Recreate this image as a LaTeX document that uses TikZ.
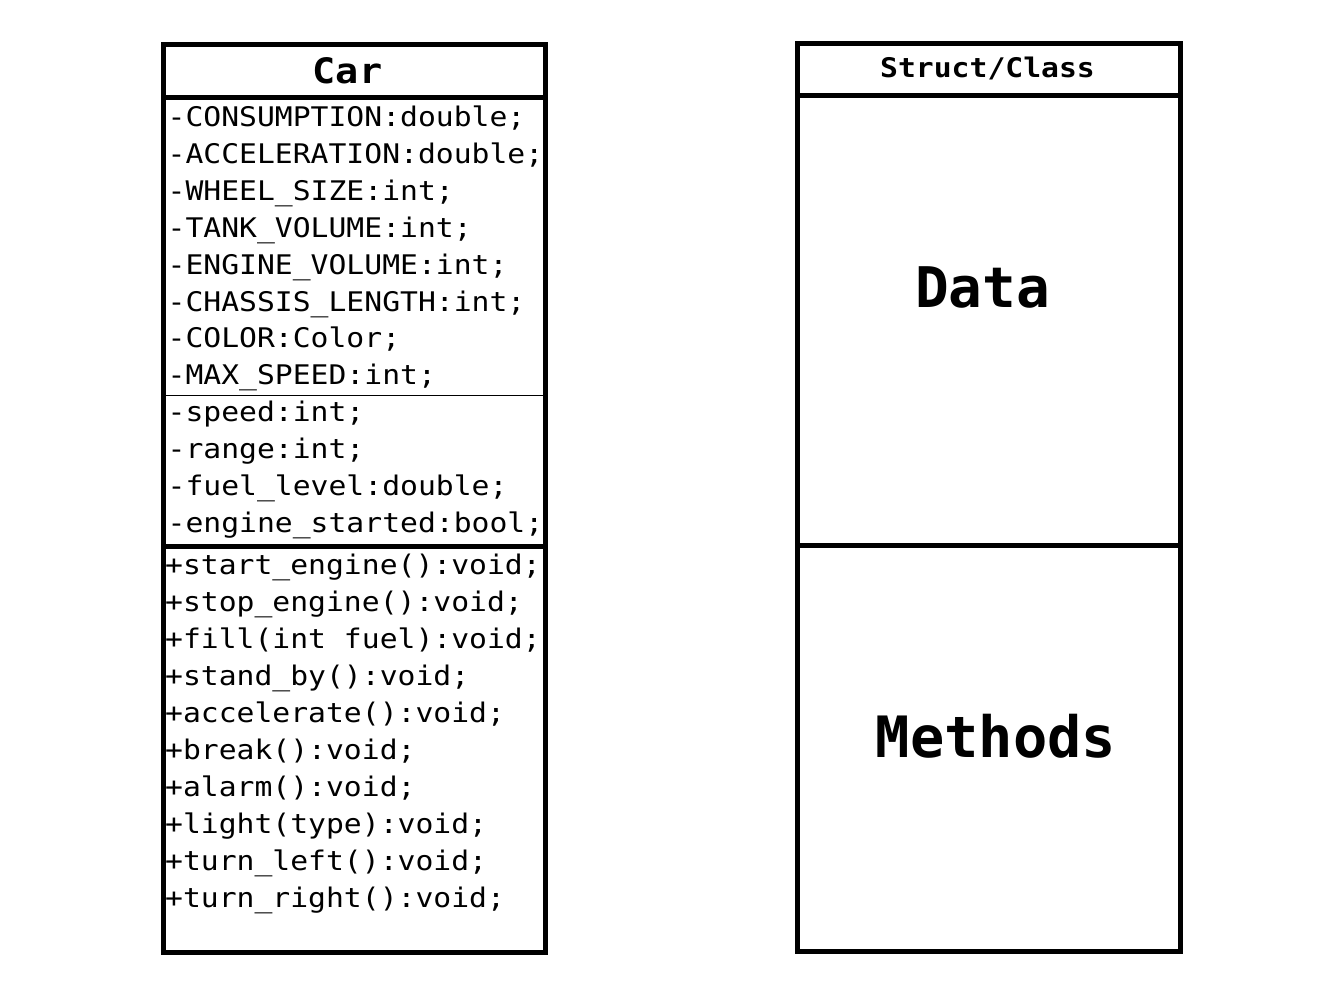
\documentclass[tikz,border=0pt]{standalone}
\usepackage{fontspec}
\newfontfamily\umlfont[FakeStretch=1.1]{DejaVu Sans Mono}
\newfontfamily\bigfont{DejaVu Sans Mono}
\begin{document}
\begin{tikzpicture}[x=1pt,y=-1pt,
  box/.style={draw=black,line width=5pt,rectangle,inner sep=0pt,outer sep=0pt,anchor=north west},
  member/.style={anchor=base west,inner sep=0pt,font=\umlfont\fontsize{27}{37}\selectfont},
  headtext/.style={anchor=base,inner sep=0pt},
  thinline/.style={draw=black,line width=1pt}]
\useasboundingbox (0,0) rectangle (1328,1004);
% Car class
\node[box,minimum width=382.5pt,minimum height=53.5pt] (carhead) at (163,44) {};
\node[box,minimum width=382.5pt,minimum height=448.5pt] (carattr) at (163,97.5) {};
\node[box,minimum width=382.5pt,minimum height=406.5pt] (carmeth) at (163,546) {};
\coordinate (sepL) at (163,395);
\coordinate (sepR) at (545.5,395);
\draw[thinline] (sepL) -- (sepR);
\node[headtext,font=\umlfont\bfseries\fontsize{35}{40}\selectfont] (cartitle) at (347.5,83) {Car};
\foreach \t [count=\i] in {-CONSUMPTION:double;,-ACCELERATION:double;,-WHEEL\_SIZE:int;,-TANK\_VOLUME:int;,-ENGINE\_VOLUME:int;,-CHASSIS\_LENGTH:int;,-COLOR:Color;,-MAX\_SPEED:int;,-speed:int;,-range:int;,-fuel\_level:double;,-engine\_started:bool;}
  \node[member] (a\i) at (167.5,{126.5+36.9*(\i-1)}) {\t};
\foreach \t [count=\i] in {+start\_engine():void;,+stop\_engine():void;,+fill(int fuel):void;,+stand\_by():void;,+accelerate():void;,+break():void;,+alarm():void;,+light(type):void;,+turn\_left():void;,+turn\_right():void;}
  \node[member] (m\i) at (165,{574+37*(\i-1)}) {\t};
% Generic struct/class
\node[box,minimum width=383pt,minimum height=52pt] (schead) at (797.5,43) {};
\node[box,minimum width=383pt,minimum height=450pt] (scdata) at (797.5,95) {};
\node[box,minimum width=383pt,minimum height=406.5pt] (scmeth) at (797.5,545) {};
\node[headtext,font=\umlfont\bfseries\fontsize{27}{32}\selectfont] (sctitle) at (987.5,77) {Struct/Class};
\node[headtext,font=\bigfont\bfseries\fontsize{56}{60}\selectfont] (datalbl) at (982.5,307) {Data};
\node[headtext,font=\bigfont\bfseries\fontsize{57}{60}\selectfont] (methlbl) at (996,757) {Methods};
\end{tikzpicture}
\end{document}
